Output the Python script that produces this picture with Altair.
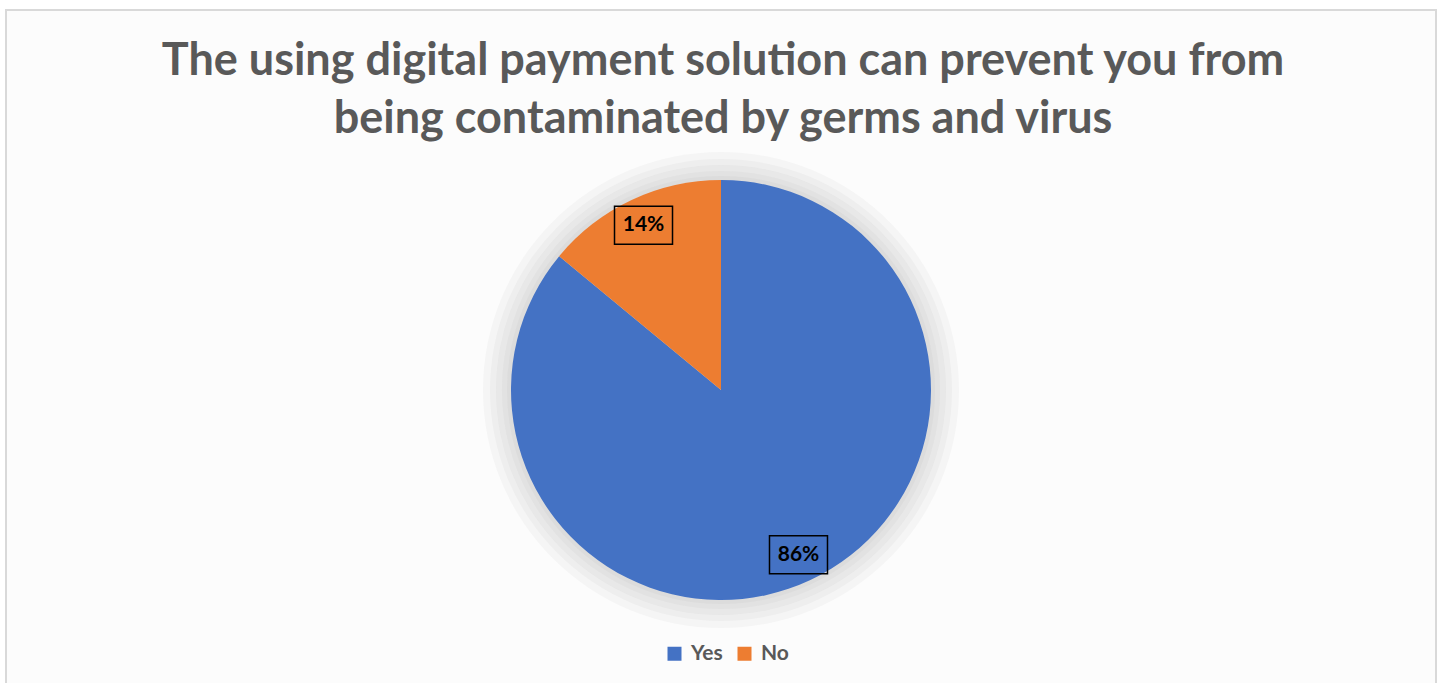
import altair as alt
import pandas as pd

categories = ["Yes", "No"]
values = [86, 14]
colors = ["#4472C4", "#ED7D31"]
title_lines = [
    "The using digital payment solution can prevent you from",
    "being contaminated by germs and virus",
]
shadow_radii = [238, 231, 225, 219, 214]

W, H = 1452, 683
CX, CY, R = 721, 390, 210
LR = 182
FONT = "Lato"

df = pd.DataFrame({"cat": categories, "value": values, "order": list(range(len(categories)))})
title_df = pd.DataFrame({"t": ["\n".join(title_lines)]})
one = pd.DataFrame({"a": [0]})

bg = alt.Chart(one).mark_rect(
    fill="#fcfcfc", stroke="#d9d9d9", strokeWidth=2
).encode(x=alt.value(6), x2=alt.value(1436), y=alt.value(10), y2=alt.value(720))

title = alt.Chart(title_df).mark_text(
    font=FONT, fontSize=45, fontWeight="bold", color="#595959",
    align="center", baseline="alphabetic", lineBreak="\n", lineHeight=58,
).encode(x=alt.value(723), y=alt.value(75), text="t:N")

shadows = [
    alt.Chart(one).mark_arc(
        radius=r, theta=0, theta2=6.2832, fill="#808080", opacity=0.06
    ).encode(x=alt.value(CX), y=alt.value(CY))
    for r in shadow_radii
]

pie = alt.Chart(df).mark_arc(radius=R).encode(
    theta=alt.Theta("value:Q", stack=True),
    order=alt.Order("order:Q"),
    color=alt.Color(
        "cat:N",
        scale=alt.Scale(domain=categories, range=colors),
        sort=categories,
        legend=alt.Legend(
            title=None, orient="none", legendX=664, legendY=643,
            direction="horizontal", symbolType="square", symbolSize=196,
            symbolStrokeWidth=0, labelFont=FONT, labelFontSize=21,
            labelFontWeight="bold", labelColor="#595959", columnPadding=11,
            labelOffset=6,
        ),
    ),
    x=alt.value(CX), y=alt.value(CY),
)

lab_base = alt.Chart(df).transform_joinaggregate(
    total="sum(value)"
).transform_window(
    cum="sum(value)", sort=[alt.SortField("order")], frame=[None, 0]
).transform_calculate(
    mid="(datum.cum - datum.value/2)/datum.total*2*PI",
    lx=f"{CX} + {LR}*sin(datum.mid)",
    ly=f"{CY} - {LR}*cos(datum.mid)",
    label="round(datum.value/datum.total*100) + '%'",
    x1="datum.lx - 29", x2="datum.lx + 29",
    y1="datum.ly - 19", y2="datum.ly + 19",
)

boxes = lab_base.mark_rect(fill=None, stroke="black", strokeWidth=1.5).encode(
    x=alt.X("x1:Q", scale=None), x2="x2:Q",
    y=alt.Y("y1:Q", scale=None), y2="y2:Q",
)

labels = lab_base.mark_text(
    font=FONT, fontSize=21, fontWeight="bold", color="black", baseline="middle"
).encode(
    x=alt.X("lx:Q", scale=None), y=alt.Y("ly:Q", scale=None), text="label:N"
)

chart = alt.layer(bg, title, *shadows, pie, boxes, labels).properties(
    width=W, height=H, padding=0, autosize=alt.AutoSizeParams(type="none"),
    background="white",
).configure_view(stroke=None)

chart.save("out.html", embed_options={"renderer": "svg", "actions": False})
